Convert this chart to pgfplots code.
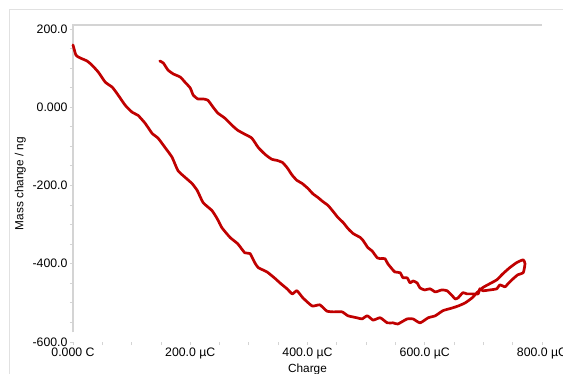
\documentclass[border=0pt]{standalone}
\usepackage{fontspec}
\setmainfont{Liberation Sans}
\usepackage{pgfplots}
\pgfplotsset{compat=1.18}
\definecolor{curve}{RGB}{192,0,0}
\definecolor{axgray}{RGB}{212,212,212}
\definecolor{framegray}{RGB}{225,225,225}
\begin{document}
\begin{tikzpicture}
\useasboundingbox (-73bp,-32bp) rectangle (490bp,342bp);
\draw[framegray, line width=0.8bp] (-64bp,-40bp) -- (-64bp,333bp) -- (500bp,333bp);
\begin{axis}[
  at={(0,0)}, anchor=south west,
  scale only axis,
  width=469bp, height=317bp,
  xmin=0, xmax=800, ymin=-600, ymax=210,
  axis line style={draw=none},
  xtick={0,200,400,600,800},
  xticklabels={0.000 C,200.0 µC,400.0 µC,600.0 µC,800.0 µC},
  minor xtick={50,100,150,250,300,350,450,500,550,650,700,750},
  ytick={-600,-400,-200,0,200},
  yticklabels={-600.0,-400.0,-200.0,0.000,200.0},
  minor ytick={-550,-500,-450,-350,-300,-250,-150,-100,-50,50,100,150},
  tick align=outside,
  xtick pos=bottom, ytick pos=left,
  major tick length=3bp, minor tick length=3bp,
  tick style={axgray, line width=0.8bp},
  x tick label style={font=\fontsize{12.3bp}{14bp}\selectfont, yshift=1bp},
  y tick label style={font=\fontsize{12.3bp}{14bp}\selectfont, xshift=1bp},
  xlabel={Charge}, ylabel={Mass change / ng},
  label style={font=\fontsize{11.8bp}{13bp}\selectfont},
  xlabel style={yshift=2bp},
  ylabel style={yshift=0bp},
  clip=false,
]
\draw[axgray, line width=1.5bp] (rel axis cs:0,0.03) -- (rel axis cs:0,1) -- (rel axis cs:1,1);
\addplot[curve, line width=2.7bp, line join=round, line cap=round, smooth, tension=0.3] coordinates {
(0,159)(5,133)(12,126)(24,118)(32,108)(43,90)(55,64)(67,51)(77,31)(89,5)
(101,-13)(111,-21)(123,-41)(135,-67)(145,-79)(157,-103)(169,-128)(179,-162)
(191,-179)(203,-195)(212,-213)(222,-244)(237,-264)(246,-285)(254,-308)
(268,-333)(281,-349)(293,-372)(302,-374)(310,-397)(316,-410)(331,-421)
(345,-438)(353,-449)(365,-464)(374,-477)(382,-469)(392,-487)(408,-508)
(421,-505)(433,-521)(444,-523)(459,-523)(469,-533)(484,-538)(493,-541)
(502,-533)(512,-544)(524,-538)(536,-551)(546,-551)(554,-554)(570,-541)
(580,-541)(592,-551)(606,-538)(618,-533)(631,-520)(647,-513)(657,-508)
(669,-500)(681,-487)(689,-474)(699,-461)(711,-451)(723,-441)(733,-426)
(745,-410)(757,-397)(768,-390)(771,-400)(768,-423)
(759,-428)(751,-438)(742,-451)(737,-459)(728,-454)(723,-464)(711,-467)
(699,-469)(694,-464)(691,-477)(681,-477)(672,-477)(665,-474)(657,-487)
(652,-490)(647,-482)(638,-469)(629,-467)(618,-472)(609,-464)(600,-467)
(592,-462)(587,-449)(580,-444)(575,-449)(570,-436)(563,-436)(558,-423)
(549,-421)(544,-413)(537,-400)(532,-387)(524,-387)(519,-385)(510,-367)
(503,-359)(495,-341)(490,-333)(478,-323)(469,-310)(461,-295)(452,-282)
(444,-267)(435,-251)(426,-241)(418,-231)(409,-221)(401,-208)(391,-195)
(382,-187)(374,-174)(365,-154)(357,-141)(348,-136)(339,-133)(328,-121)
(316,-103)(305,-79)(293,-69)(281,-59)(271,-46)(259,-28)(247,-15)(239,0)
(230,18)(222,21)(213,21)(205,31)(200,49)(191,64)(183,77)(171,85)(162,95)
(154,113)(148,118)
};
\end{axis}
\end{tikzpicture}
\end{document}
